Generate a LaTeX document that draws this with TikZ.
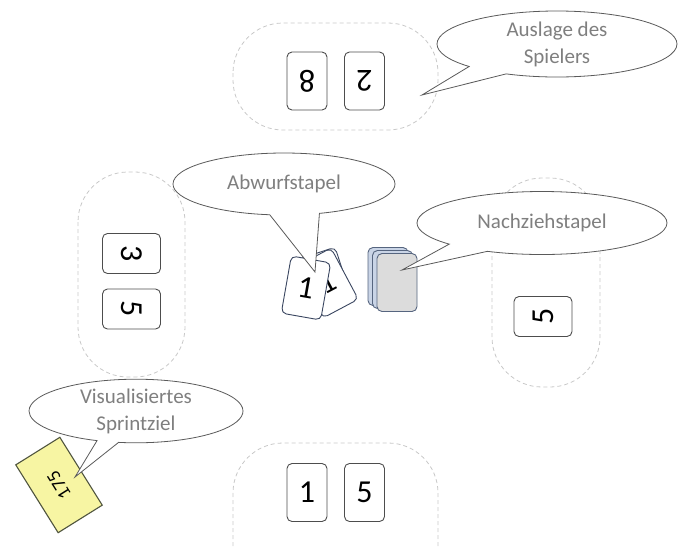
\documentclass[tikz,border=0pt]{standalone}
\usepackage{fontspec}
\setmainfont{Carlito}
\usetikzlibrary{shapes.geometric,shapes.callouts}
\definecolor{zonegray}{HTML}{C8C8C8}
\definecolor{cardline}{HTML}{4D4D4D}
\definecolor{bubbleline}{HTML}{5A5A5A}
\definecolor{bubbletext}{HTML}{7F7F7F}
\definecolor{pileblue}{HTML}{C9D4E6}
\definecolor{pileline}{HTML}{56657F}
\definecolor{pilegray}{HTML}{DCDCDC}
\definecolor{tossline}{HTML}{3A4660}
\definecolor{goalyellow}{HTML}{F7F5A3}
\definecolor{goalline}{HTML}{50553F}
\tikzset{
	zone/.style={draw=zonegray, dash pattern=on 4pt off 3pt, line width=0.8pt, rounded corners=50pt},
	card/.style={draw=cardline, fill=white, rounded corners=5pt, line width=0.9pt, minimum width=40pt, minimum height=58pt, inner sep=0pt, font=\fontsize{32}{32}\selectfont},
	pilecard/.style={card, draw=pileline, fill=pileblue},
	tossed/.style={card, draw=tossline},
	bubble/.style={ellipse callout, draw=bubbleline, fill=white, line width=0.8pt, inner sep=0pt, text=bubbletext, align=center, font=\fontsize{21}{27}\selectfont},
}

\begin{document}
\begin{tikzpicture}[x=1pt, y=-1pt]
			%%%%% START %%%%%
			\path[use as bounding box, clip] (0,0) rectangle (678,547);
			
			% Spielerzonen
			\draw[zone] (233,23) rectangle (438,130);
			\draw[zone] (78,172) rectangle (185,377);
			\draw[zone] (492,178) rectangle (600,387);
			\draw[zone] (233,443) rectangle (438,610);
			
			% Auslagen
			\node[card, rotate=180] (top8) at (307,81) {8};
			\node[card, rotate=180] (top2) at (364.5,81) {2};
			\node[card, rotate=-90] (left3) at (131.5,253.5) {3};
			\node[card, rotate=-90] (left5) at (131.5,309) {5};
			\node[card, rotate=90] (right5) at (543,316.5) {5};
			\node[card] (bottom1) at (307,492.5) {1};
			\node[card] (bottom5) at (364.5,492.5) {5};
			
			% Abwurfstapel
			\node[tossed, rotate=18] (toss0) at (325,281) {};
			\node[tossed, rotate=28] (toss1) at (327,283) {1};
			\node[tossed, rotate=-10] (toss2) at (306,288) {1};
			
			% Nachziehstapel
			\foreach \i/\c in {0/pileblue,1/pileblue,2/pilegray}
				\node[pilecard, fill=\c] (stack\i) at ({388+4.5*\i},{276.5+3*\i}) {};
			
			% Sprintziel
			\node[card, fill=goalyellow, draw=goalline, line width=1.1pt, rounded corners=0pt, rotate=122, minimum width=80pt, minimum height=52pt, font=\fontsize{19}{19}\selectfont] (goal) at (59,485) {175};
			
			% Sprechblasen
			\node[bubble, minimum width=240pt, minimum height=66pt, callout pointer arc=22, callout absolute pointer={(422,95)}] (auslage) at (557,44) {Auslage des\\Spielers};
			\node[bubble, minimum width=222pt, minimum height=62pt, callout pointer arc=26, callout absolute pointer={(315,272)}] (abwurf) at (284,184) {Abwurfstapel};
			\node[bubble, minimum width=250pt, minimum height=63pt, callout pointer arc=22, callout absolute pointer={(402,270)}] (nachzieh) at (542,223) {Nachziehstapel};
			\node[bubble, minimum width=214pt, minimum height=56pt, callout pointer arc=12, callout absolute pointer={(75,477)}] (sprint) at (136,411) {Visualisiertes\\Sprintziel};
			
			%%%%% END %%%%%
\end{tikzpicture}
\end{document}
